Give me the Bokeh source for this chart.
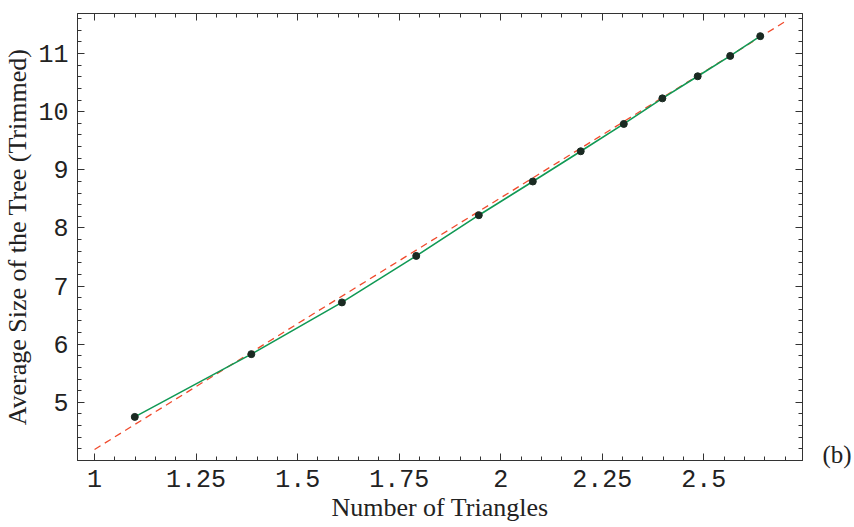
import numpy as np
from bokeh.plotting import figure
from bokeh.models import (Range1d, SingleIntervalTicker, FixedTicker, LinearAxis, CustomJSTickFormatter)
from bokeh.embed import file_html
from bokeh.resources import INLINE

# data
n_triangles = [1.099, 1.386, 1.609, 1.792, 1.946, 2.079, 2.197, 2.303, 2.398, 2.485, 2.565, 2.639]
avg_size = [4.75, 5.83, 6.72, 7.52, 8.22, 8.80, 9.32, 9.79, 10.23, 10.61, 10.96, 11.30]
fit_x = [1.0, 2.70]
fit_y = [4.19, 11.55]

x_ticks = [1.0, 1.25, 1.5, 1.75, 2.0, 2.25, 2.5]
x_tick_labels = ["1", "1.25", "1.5", "1.75", "2", "2.25", "2.5"]
y_ticks = [5, 6, 7, 8, 9, 10, 11]
y_tick_labels = ["5", "6", "7", "8", "9", "10", "11"]
panel_tag = "(b)"
panel_tag_at = 4.1

p = figure(width=854, height=527, output_backend="svg", toolbar_location=None,
           x_range=Range1d(0.958, 2.743), y_range=Range1d(4.0, 11.69),
           x_axis_label="Number of Triangles",
           y_axis_label="Average Size of the Tree (Trimmed)",
           min_border_left=77, min_border_right=51, min_border_top=13, min_border_bottom=67)

p.grid.visible = False
p.background_fill_color = "white"
p.border_fill_color = "white"
p.outline_line_color = "#333333"
p.outline_line_width = 1

def style(ax, title_size="26px"):
    ax.axis_line_color = "#333333"
    ax.major_tick_line_color = "#333333"
    ax.minor_tick_line_color = "#333333"
    ax.major_tick_in = 7
    ax.major_tick_out = 0
    ax.minor_tick_in = 4
    ax.minor_tick_out = 0
    ax.major_label_text_font = "Liberation Mono"
    ax.major_label_text_font_size = "25px"
    ax.major_label_text_color = "#222222"
    ax.major_label_standoff = 9
    ax.axis_label_text_font = "Liberation Serif"
    ax.axis_label_text_font_size = title_size
    ax.axis_label_text_font_style = "normal"
    ax.axis_label_text_color = "#222222"
    ax.axis_label_standoff = 3

y_minor = [round(v, 1) for v in np.arange(4.0, 11.7, 0.2) if abs(v - round(v)) > 1e-6]

xa = p.xaxis[0]
xa.ticker = SingleIntervalTicker(interval=0.25, num_minor_ticks=5)
xa.major_label_overrides = {t: l for t, l in zip(x_ticks, x_tick_labels)}
style(xa, "26px")
ya = p.yaxis[0]
ya.ticker = FixedTicker(ticks=y_ticks, minor_ticks=y_minor + [4.0])
ya.major_label_overrides = {t: l for t, l in zip(y_ticks, y_tick_labels)}
style(ya, "26px")

blank = CustomJSTickFormatter(code="return '';")
top = LinearAxis(ticker=SingleIntervalTicker(interval=0.25, num_minor_ticks=5), formatter=blank)
style(top)
top.major_label_standoff = 0
p.add_layout(top, "above")
right = LinearAxis(ticker=FixedTicker(ticks=y_ticks, minor_ticks=y_minor + [4.0]), formatter=blank)
style(right)
right.major_label_standoff = 0
p.add_layout(right, "right")

# panel tag "(b)" drawn as the only label of an extra, line-less right axis
tag_axis = LinearAxis(ticker=FixedTicker(ticks=[panel_tag_at], minor_ticks=[]),
                      major_label_overrides={panel_tag_at: panel_tag})
tag_axis.axis_line_color = None
tag_axis.major_tick_line_color = None
tag_axis.minor_tick_line_color = None
tag_axis.major_label_standoff = 14
tag_axis.major_label_text_font = "Liberation Serif"
tag_axis.major_label_text_font_size = "25px"
tag_axis.major_label_text_color = "#222222"
p.add_layout(tag_axis, "right")

p.line(fit_x, fit_y, line_color="#f04a2c", line_width=1.3, line_dash="7 5")
p.line(n_triangles, avg_size, line_color="#119955", line_width=1.6)
p.scatter(n_triangles, avg_size, size=7, fill_color="#1a2a22", line_color="#1a2a22")

open("out.html", "w").write(file_html(p, INLINE))
